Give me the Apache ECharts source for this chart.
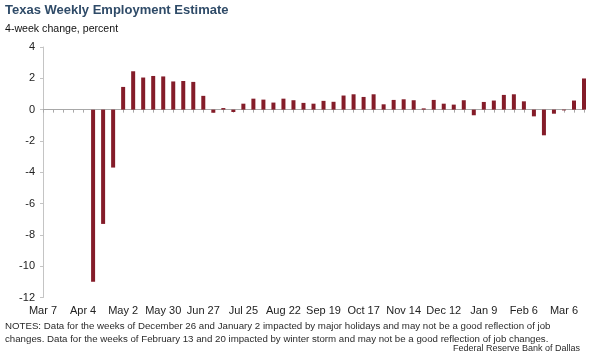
<!DOCTYPE html>
<html>
<head>
<meta charset="utf-8">
<script src="https://cdn.jsdelivr.net/npm/echarts@6/dist/echarts.min.js"></script>
<style>html,body{margin:0;padding:0;background:#fff}#c{width:600px;height:359px}</style>
</head>
<body>
<div id="c"></div>
<script>
const weeks = [
  'Mar 7','Mar 14','Mar 21','Mar 28','Apr 4','Apr 11','Apr 18','Apr 25',
  'May 2','May 9','May 16','May 23','May 30','Jun 6','Jun 13','Jun 20','Jun 27',
  'Jul 4','Jul 11','Jul 18','Jul 25','Aug 1','Aug 8','Aug 15','Aug 22','Aug 29',
  'Sep 5','Sep 12','Sep 19','Sep 26','Oct 3','Oct 10','Oct 17','Oct 24','Oct 31',
  'Nov 7','Nov 14','Nov 21','Nov 28','Dec 5','Dec 12','Dec 19','Dec 26',
  'Jan 2','Jan 9','Jan 16','Jan 23','Jan 30','Feb 6','Feb 13','Feb 20','Feb 27',
  'Mar 6','Mar 13','Mar 20'
];
const change = [
  null, null, null, null, null, -11.0, -7.3, -3.7,
  1.45, 2.45, 2.05, 2.15, 2.12, 1.8, 1.83, 1.77, 0.88,
  -0.2, 0.1, -0.15, 0.38, 0.7, 0.64, 0.45, 0.7, 0.6,
  0.43, 0.38, 0.56, 0.5, 0.9, 0.98, 0.81, 0.98, 0.34,
  0.62, 0.66, 0.6, 0.08, 0.62, 0.38, 0.32, 0.6,
  -0.36, 0.49, 0.58, 0.94, 0.98, 0.53, -0.43, -1.64, -0.26,
  -0.05, 0.58, 1.99
];
const yTicks = { min: -12, max: 4, interval: 2 };
const titleText = 'Texas Weekly Employment Estimate';
const subtitleText = '4-week change, percent';
const notesText = [
  'NOTES: Data for the weeks of December 26 and January 2 impacted by major holidays and may not be a good reflection of job',
  'changes. Data for the weeks of February 13 and 20 impacted by winter storm and may not be a good reflection of job changes.'
];
const sourceText = 'Federal Reserve Bank of Dallas';

const FONT = '"Liberation Sans", Arial, sans-serif';
const chart = echarts.init(document.getElementById('c'), null, { renderer: 'canvas' });
chart.setOption({
  animation: false,
  backgroundColor: '#fff',
  grid: { left: 43, right: 16, top: 47, bottom: 61.5, containLabel: false },
  title: [
    { text: titleText, left: 0, top: -1, textStyle: { fontFamily: FONT, fontSize: 13, fontWeight: 'bold', color: '#2f4b68' } },
    { text: subtitleText, left: 0, top: 19, textStyle: { fontFamily: FONT, fontSize: 10.6, fontWeight: 'normal', color: '#111' } }
  ],
  xAxis: [
    {
      type: 'category', data: weeks, boundaryGap: false,
      axisLine: { onZero: true, lineStyle: { color: '#a8a8a8', width: 1 } },
      axisTick: { show: true, interval: 0, length: 3, lineStyle: { color: '#a8a8a8' } },
      axisLabel: { show: false }, splitLine: { show: false }
    },
    {
      type: 'category', data: weeks, boundaryGap: false, position: 'bottom',
      axisLine: { show: false, onZero: false }, axisTick: { show: false },
      axisLabel: { show: true, interval: 3, margin: 8, fontFamily: FONT, fontSize: 11, color: '#222' },
      splitLine: { show: false }
    }
  ],
  yAxis: {
    type: 'value', min: yTicks.min, max: yTicks.max, interval: yTicks.interval,
    axisLine: { show: true, lineStyle: { color: '#c4c4c4' } },
    axisTick: { show: true, length: 3, lineStyle: { color: '#c4c4c4' } },
    axisLabel: { margin: 8, fontFamily: FONT, fontSize: 11, color: '#222' },
    splitLine: { show: false }
  },
  series: [{
    type: 'bar', data: change, xAxisIndex: 0, barWidth: 4, clip: false,
    itemStyle: { color: '#841c29' }
  }],
  graphic: [
    { type: 'text', left: 5, top: 321, style: { text: notesText[0], font: '9.7px ' + FONT, fill: '#2a2a2a' } },
    { type: 'text', left: 5, top: 334, style: { text: notesText[1], font: '9.7px ' + FONT, fill: '#2a2a2a' } },
    { type: 'text', right: 20, top: 344.5, style: { text: sourceText, font: '9px ' + FONT, fill: '#2a2a2a' } }
  ]
});
</script>
</body>
</html>
